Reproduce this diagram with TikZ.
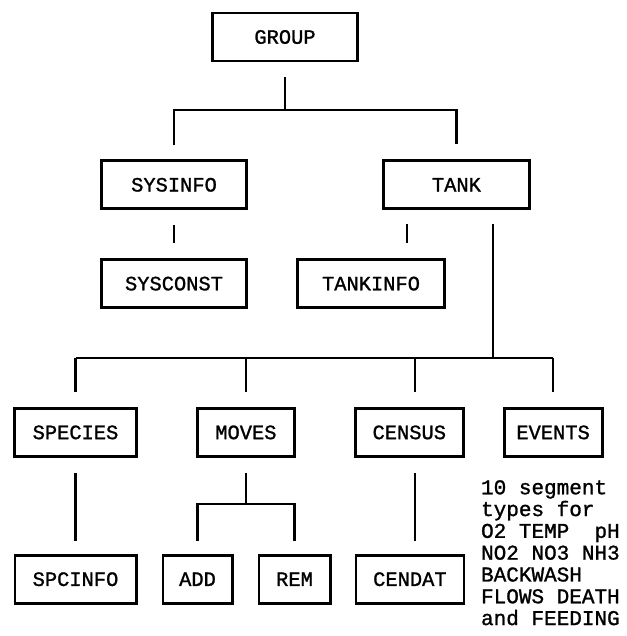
\documentclass[tikz,border=0pt]{standalone}
\usepackage{fontspec}
\newfontfamily\typefont{Liberation Mono}[FakeBold=1.2]
\usetikzlibrary{positioning}

\begin{document}
\begin{tikzpicture}[
    box/.style={draw, line width=1.4pt, minimum height=24pt, inner sep=0pt, font=\typefont\fontsize{10.2}{12}\selectfont},
    link/.style={line width=1.1pt},
    note/.style={font=\typefont\fontsize{10.5}{10.9}\selectfont, align=left, inner sep=0pt}
]
    \useasboundingbox (0,0) rectangle (313pt,-318pt);

    \node[box, minimum width=72.6pt] (group) at (142.5pt,-18.5pt) {GROUP};
    \node[box, minimum width=72.6pt, below=48.5pt of group, xshift=-55.5pt] (sysinfo) {SYSINFO};
    \node[box, minimum width=73pt, right=67pt of sysinfo] (tank) {TANK};
    \node[box, minimum width=72.6pt, below=24pt of sysinfo] (sysconst) {SYSCONST};
    \node[box, minimum width=73.6pt, right=24pt of sysconst] (tankinfo) {TANKINFO};

    \node[box, minimum width=61pt, below=49pt of sysconst, xshift=-49.25pt] (species) {SPECIES};
    \node[box, minimum width=48.6pt, right=29pt of species] (moves) {MOVES};
    \node[box, minimum width=54pt, right=29pt of moves] (census) {CENSUS};
    \node[box, minimum width=49pt, right=19pt of census] (events) {EVENTS};

    \node[box, minimum width=60.6pt, below=48pt of species] (spcinfo) {SPCINFO};
    \node[box, minimum width=34.6pt, right=12pt of spcinfo] (add) {ADD};
    \node[box, minimum width=35.6pt, right=12pt of add] (rem) {REM};
    \node[box, minimum width=54pt, right=11.5pt of rem] (cendat) {CENDAT};

    \node[note, below right=11pt and -11pt of events.south west] (eventnote) {10 segment\\types for\\O2 TEMP\ \ pH\\NO2 NO3 NH3\\BACKWASH\\FLOWS DEATH\\and FEEDING};

    % top levels
    \draw[link, shorten <=7.5pt] (group.south) -- ++(0,-24pt) coordinate (gj);
    \draw[link, shorten <=7pt, shorten >=7.5pt] (sysinfo.north) |- (gj) -| (tank.north);
    \draw[link, shorten <=7.5pt, shorten >=7.5pt] (sysinfo) -- (sysconst);
    \draw[link, shorten <=7pt, shorten >=7.5pt] ([xshift=12.5pt]tank.south west) -- ([xshift=12.5pt]tank.south west |- tankinfo.north);

    % tank bus
    \coordinate (bus) at ([yshift=24.5pt]species.north);
    \draw[link, shorten <=7pt] ([xshift=-19pt]tank.south east) -- ([xshift=-19pt]tank.south east |- bus);
    \draw[link] (species.north |- bus) -- (events.north |- bus);
    \draw[link, shorten >=7.5pt] (species.north |- bus) -- (species.north);
    \draw[link, shorten >=7.5pt] (moves.north |- bus) -- (moves.north);
    \draw[link, shorten >=7.5pt] ([xshift=2.75pt]census.north |- bus) -- ([xshift=2.75pt]census.north);
    \draw[link, shorten >=7.5pt] (events.north |- bus) -- (events.north);

    % lower levels
    \draw[link, shorten <=7.5pt, shorten >=6.5pt] (species.south) -- (species.south |- spcinfo.north);
    \draw[link, shorten <=7.5pt] (moves.south) -- ++(0,-23pt) coordinate (mj);
    \draw[link, shorten <=6.5pt, shorten >=6.5pt] (add.north) |- (mj) -| (rem.north);
    \draw[link, shorten <=7.5pt, shorten >=6.5pt] ([xshift=2.75pt]census.south) -- ([xshift=2.75pt]census.south |- cendat.north);
\end{tikzpicture}
\end{document}
